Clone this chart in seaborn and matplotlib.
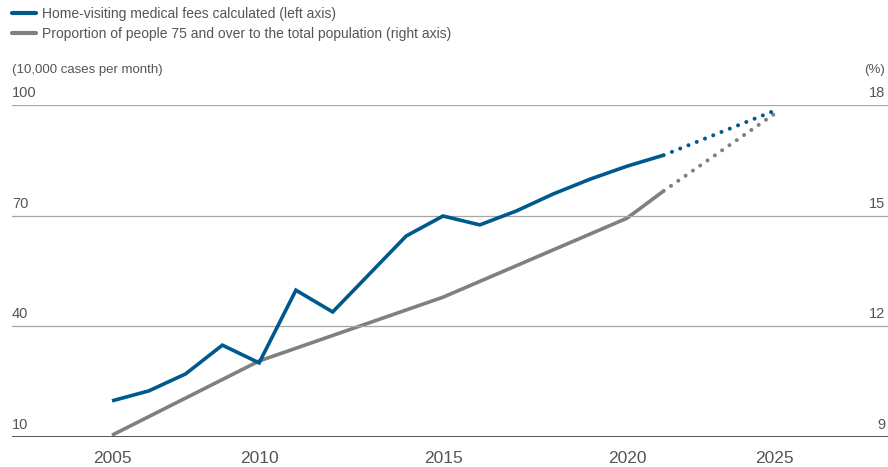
"""
Home-visiting medical fees vs. share of people 75+ (dual axis line chart).
"""

import matplotlib
matplotlib.use("Agg")
import matplotlib.pyplot as plt
import matplotlib.transforms as mtransforms
import pandas as pd
import seaborn as sns

# evenly spaced survey periods along the chart, 0 = 2005
period = list(range(16))
home_visits = [19.8, 22.5, 27.1, 34.9, 30.1, 49.8, 43.9, 54.2,
               64.5, 69.9, 67.5, 71.3, 75.9, 79.9, 83.4, 86.4]
proj_period = [15, 18]
home_visits_proj = [86.4, 98.4]

elderly_period = [0, 4, 9, 14, 15]
elderly_share = [9.05, 11.06, 12.79, 14.93, 15.67]
elderly_proj = [15.67, 17.75]

tick_period = [0, 4, 9, 14, 18]
tick_labels = ["2005", "2010", "2015", "2020", "2025"]
left_ticks = [10, 40, 70, 100]
right_ticks = [9, 12, 15, 18]

label_blue = "Home-visiting medical fees calculated (left axis)"
label_gray = "Proportion of people 75 and over to the total population (right axis)"

BLUE = "#00598c"
GRAY = "#808080"
TEXT = "#555555"

sns.set_style("white")
plt.rcParams["font.family"] = ["Liberation Sans", "DejaVu Sans"]

fig = plt.figure(figsize=(8.88, 4.67), dpi=100)
ax = fig.add_axes([12 / 888, 1 - 437 / 467, 1 - 12 / 888, (437 - 105) / 467])
ax2 = ax.twinx()

blue_df = pd.DataFrame({"period": period, "value": home_visits})
blue_proj_df = pd.DataFrame({"period": proj_period, "value": home_visits_proj})
gray_df = pd.DataFrame({"period": elderly_period, "value": elderly_share})
gray_proj_df = pd.DataFrame({"period": proj_period, "value": elderly_proj})

dots = (0, (0.01, 2.2))

# gray series on the right axis
sns.lineplot(data=gray_df, x="period", y="value", ax=ax2, color=GRAY, lw=2.6,
             solid_capstyle="butt")
sns.lineplot(data=gray_proj_df, x="period", y="value", ax=ax2, color=GRAY, lw=2.9,
             linestyle=dots, dash_capstyle="round")

# blue series on the left axis
sns.lineplot(data=blue_df, x="period", y="value", ax=ax, color=BLUE, lw=2.6,
             solid_capstyle="butt", solid_joinstyle="miter")
sns.lineplot(data=blue_proj_df, x="period", y="value", ax=ax, color=BLUE, lw=2.9,
             linestyle=dots, dash_capstyle="round")

ax.set_zorder(ax2.get_zorder() + 1)
ax.patch.set_visible(False)

xmin, xmax = -2.72, 21.1
for a in (ax, ax2):
    a.set_xlim(xmin, xmax)
    for s in a.spines.values():
        s.set_visible(False)
    a.set_xlabel("")
    a.set_ylabel("")
    a.tick_params(left=False, right=False, bottom=False, labelleft=False, labelright=False)
    for line in a.get_lines():
        line.set_clip_on(False)

ax.set_ylim(10, 100)
ax2.set_ylim(9, 18)

# horizontal grid lines, bottom one is the axis
for v in left_ticks[1:]:
    ax.axhline(v, color="#a6a6a6", lw=0.9, zorder=0)
ax.axhline(left_ticks[0], color="#555555", lw=1.4, zorder=0)

# y labels sitting above the lines
lt = mtransforms.blended_transform_factory(ax.transAxes, ax.transData)
rt = mtransforms.blended_transform_factory(ax2.transAxes, ax2.transData)
for v in left_ticks:
    ax.annotate(str(v), (0.0, v), xycoords=lt, xytext=(0, 3.5), textcoords="offset points",
                ha="left", va="bottom", fontsize=10.5, color=TEXT)
for v in right_ticks:
    ax2.annotate(str(v), (0.997, v), xycoords=rt, xytext=(0, 3.5), textcoords="offset points",
                 ha="right", va="bottom", fontsize=10.5, color=TEXT)

ax.set_xticks(tick_period)
ax.set_xticklabels(tick_labels, fontsize=12.5, color=TEXT)
ax.tick_params(axis="x", pad=6.5, labelbottom=True)

fig.text(12 / 888, 1 - 70 / 467, "(10,000 cases per month)", ha="left", va="center",
         fontsize=9.5, color=TEXT)
fig.text(885 / 888, 1 - 70 / 467, "(%)", ha="right", va="center",
         fontsize=9.5, color=TEXT)

handles = [plt.Line2D([], [], color=BLUE, lw=3, solid_capstyle="round"),
           plt.Line2D([], [], color=GRAY, lw=3, solid_capstyle="round")]
fig.legend(handles, [label_blue, label_gray], loc="upper left",
           bbox_to_anchor=(12 / 888, 1 - 7 / 467), frameon=False,
           handlelength=1.7, handletextpad=0.45, labelspacing=0.4,
           borderpad=0, borderaxespad=0, fontsize=10, labelcolor=TEXT)

fig.savefig("out.png", dpi=100)
